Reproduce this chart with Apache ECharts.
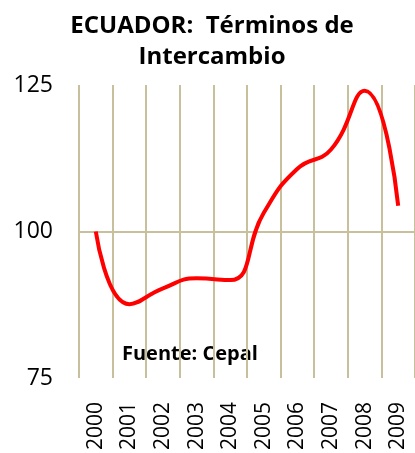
<!DOCTYPE html>
<html>
<head>
<meta charset="utf-8">
<script src="https://cdn.jsdelivr.net/npm/echarts@6/dist/echarts.min.js"></script>
<style>
  html, body { margin: 0; padding: 0; background: #fff; }
  #chart { width: 415px; height: 453px; }
</style>
</head>
<body>
<div id="chart"></div>
<script>
const years = ["2000", "2001", "2002", "2003", "2004", "2005", "2006", "2007", "2008", "2009"];
const terms = [100, 87.6, 90.3, 92, 91.7, 103.2, 110.7, 114.0, 124, 104.4];
const yTicks = [75, 100, 125];

const gridColor = "#c8c09c";
const font = "'Open Sans', 'Noto Sans', sans-serif";

echarts.init(document.getElementById("chart")).setOption({
  animation: false,
  title: {
    text: "ECUADOR:  Términos de\nIntercambio",
    left: 207, top: 6, textAlign: "center",
    textStyle: { fontFamily: font, fontSize: 24, fontWeight: "bold", color: "#000", lineHeight: 31 }
  },
  graphic: [{
    type: "text", left: 122, top: 344,
    style: { text: "Fuente: Cepal", fontFamily: "Open Sans", fontSize: 20, fontWeight: "bold", fill: "#000" }
  }],
  grid: { left: 79, top: 85, width: 339, height: 295 },
  xAxis: {
    type: "category", data: years, boundaryGap: true,
    axisLine: { show: false }, axisTick: { show: false },
    axisLabel: { rotate: 90, fontFamily: font, fontSize: 21, color: "#000", margin: 24 },
    splitLine: { show: true, interval: 0, lineStyle: { color: gridColor, width: 2 } }
  },
  yAxis: {
    type: "value", min: yTicks[0], max: yTicks[2], interval: 25,
    axisLine: { show: false }, axisTick: { show: false },
    axisLabel: { fontFamily: font, fontSize: 23, color: "#000", margin: 26 },
    splitLine: { show: true, lineStyle: { color: ["rgba(0,0,0,0)", gridColor, "rgba(0,0,0,0)"], width: 2 } }
  },
  series: [{
    type: "line", data: terms, smooth: 0.5, showSymbol: false,
    lineStyle: { color: "#ff0000", width: 4 }
  }]
});
</script>
</body>
</html>
